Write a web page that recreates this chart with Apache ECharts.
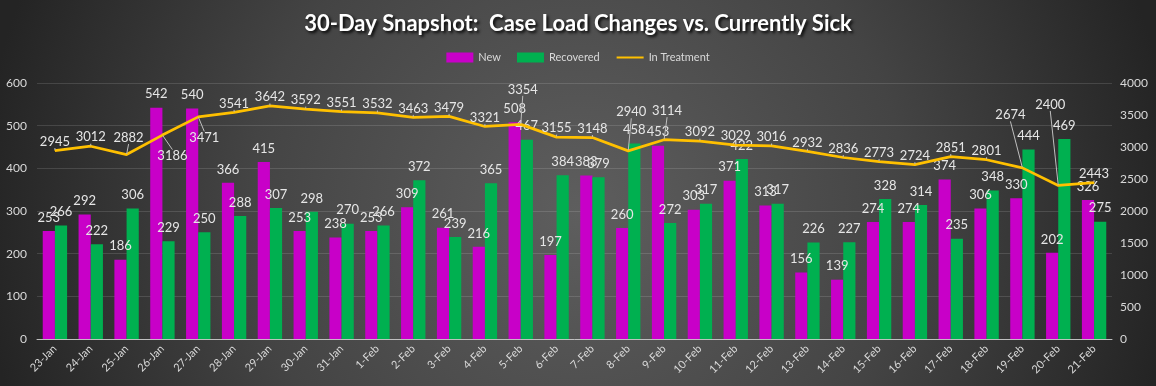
<!DOCTYPE html>
<html>
<head>
<meta charset="utf-8">
<script src="https://cdn.jsdelivr.net/npm/echarts@6/dist/echarts.min.js"></script>
<style>html,body{margin:0;padding:0;background:#333;}#c{width:1156px;height:386px;}</style>
</head>
<body>
<div id="c"></div>
<script>
const categories = ['23-Jan','24-Jan','25-Jan','26-Jan','27-Jan','28-Jan','29-Jan','30-Jan','31-Jan','1-Feb','2-Feb','3-Feb','4-Feb','5-Feb','6-Feb','7-Feb','8-Feb','9-Feb','10-Feb','11-Feb','12-Feb','13-Feb','14-Feb','15-Feb','16-Feb','17-Feb','18-Feb','19-Feb','20-Feb','21-Feb'];
const newCases = [253,292,186,542,540,366,415,253,238,253,309,261,216,508,197,383,260,453,303,371,313,156,139,274,274,374,306,330,202,326];
const recovered = [266,222,306,229,250,288,307,298,270,266,372,239,365,467,384,379,458,272,317,422,317,226,227,328,314,235,348,444,469,275];
const inTreatment = [2945,3012,2882,3186,3471,3541,3642,3592,3551,3532,3463,3479,3321,3354,3155,3148,2940,3114,3092,3029,3016,2932,2836,2773,2724,2851,2801,2674,2400,2443];
const leftTicks = {min:0, max:600, interval:100};
const rightTicks = {min:0, max:4000, interval:500};

// label adjustments for the line (layout only)
const lineLabelShift = {2:[2,-8],3:[10,30],4:[6,30],13:[2,-26],16:[3,-30],17:[3,-20],27:[-12,-44],28:[-8,-72]};

const font = 'Lato, "Open Sans", sans-serif';
const chart = echarts.init(document.getElementById('c'));
chart.setOption({
  backgroundColor: {type:'radial', x:0.5, y:0.55, r:1.55, colorStops:[{offset:0,color:'#5e5e5e'},{offset:0.55,color:'#444444'},{offset:1,color:'#242424'}]},
  title: {
    text: '30-Day Snapshot:  Case Load Changes vs. Currently Sick',
    left: 'center', top: 8,
    textStyle: {color:'#ffffff', fontSize:22, fontWeight:'bold', fontFamily:font,
      textShadowColor:'rgba(0,0,0,0.9)', textShadowBlur:3, textShadowOffsetX:2, textShadowOffsetY:2}
  },
  legend: {
    top: 47, left:'center', itemWidth:27, itemHeight:10, itemGap:16,
    textStyle:{color:'#d9d9d9', fontSize:11, fontFamily:font},
    data:[{name:'New', icon:'rect'},{name:'Recovered', icon:'rect'},{name:'In Treatment', itemStyle:{opacity:0}}]
  },
  grid: {left:37, right:44, top:83, bottom:47},
  xAxis: {
    type:'category', data:categories,
    axisLine:{lineStyle:{color:'#bfbfbf', width:1}},
    axisTick:{show:false},
    axisLabel:{color:'#d9d9d9', fontSize:11, rotate:45, fontFamily:font, interval:0, margin:8}
  },
  yAxis: [
    {type:'value', min:leftTicks.min, max:leftTicks.max, interval:leftTicks.interval,
     axisLabel:{color:'#d9d9d9', fontSize:12, fontFamily:font, margin:10},
     axisLine:{show:false}, axisTick:{show:false},
     splitLine:{lineStyle:{color:'rgba(255,255,255,0.13)', width:1}}},
    {type:'value', min:rightTicks.min, max:rightTicks.max, interval:rightTicks.interval,
     axisLabel:{color:'#d9d9d9', fontSize:12, fontFamily:font, margin:8, formatter:function(v){return String(v);}},
     axisLine:{show:false}, axisTick:{show:false}, splitLine:{show:false}}
  ],
  series: [
    {name:'New', type:'bar', data:newCases, itemStyle:{color:'#C800C8'},
     barGap:'0%', barCategoryGap:'32%',
     label:{show:true, position:'top', color:'#e6e6e6', fontSize:13, fontFamily:font, distance:7}},
    {name:'Recovered', type:'bar', data:recovered, itemStyle:{color:'#00B050'},
     label:{show:true, position:'top', color:'#e6e6e6', fontSize:13, fontFamily:font, distance:7}},
    {name:'In Treatment', type:'line', yAxisIndex:1, data:inTreatment,
     showSymbol:true, symbol:'circle', symbolSize:1, lineStyle:{color:'#FFC000', width:2.75}, itemStyle:{color:'#FFC000'},
     label:{show:true, position:'top', color:'#e6e6e6', fontSize:13, fontFamily:font, distance:2},
     labelLine:{show:true, lineStyle:{color:'#bfbfbf', width:1}},
     labelLayout: function(p){ const s = lineLabelShift[p.dataIndex]; return s ? {dx:s[0], dy:s[1]} : {}; },
     z:5}
  ]
});
</script>
</body>
</html>
